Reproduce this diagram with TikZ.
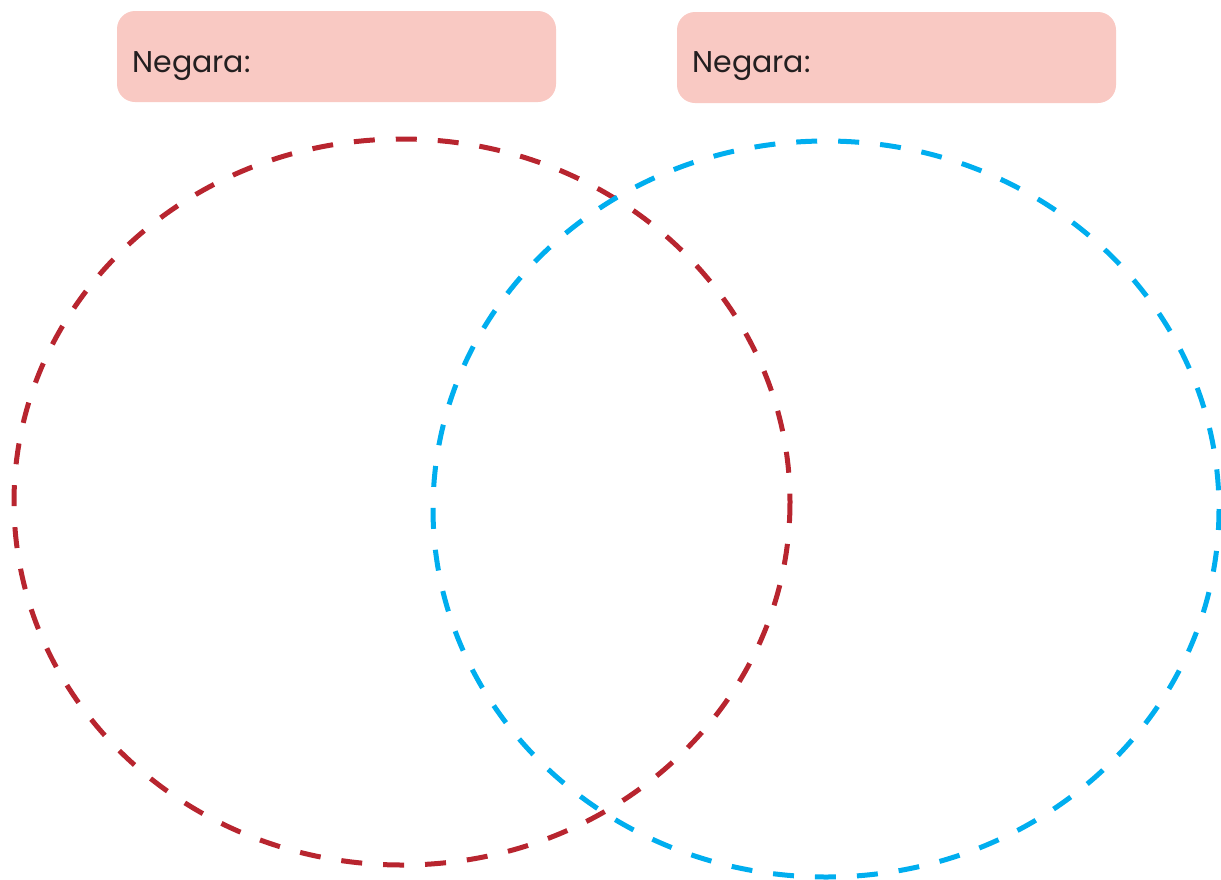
\documentclass[tikz,border=0pt]{standalone}
\usepackage{fontspec}
\setmainfont{Poppins}
\definecolor{boxpink}{HTML}{F9C9C3}
\definecolor{vred}{HTML}{B8252F}
\definecolor{vblue}{HTML}{00AEEF}
\definecolor{txt}{HTML}{231F20}
\begin{document}
\begin{tikzpicture}[x=0.5pt,y=-0.5pt,
  labelbox/.style={fill=boxpink,rounded corners=9pt},
  vcircle/.style={line width=2.5pt,dash pattern=on 10.5pt off 10.5pt},
  lab/.style={anchor=base west,text=txt,font=\fontsize{15}{18}\selectfont,inner sep=0pt}]
\useasboundingbox (0,0) rectangle (1221,879);
\fill[labelbox] (117,11) rectangle (556,102);
\fill[labelbox] (677,12) rectangle (1116,103);
\node[lab] (l1) at (132,72) {Negara:};
\node[lab] (l2) at (692,72) {Negara:};
\draw[vcircle,vred] (402,502) ellipse [x radius=388, y radius=363];
\draw[vcircle,vblue] (826,509) ellipse [x radius=393, y radius=368];
\end{tikzpicture}
\end{document}
